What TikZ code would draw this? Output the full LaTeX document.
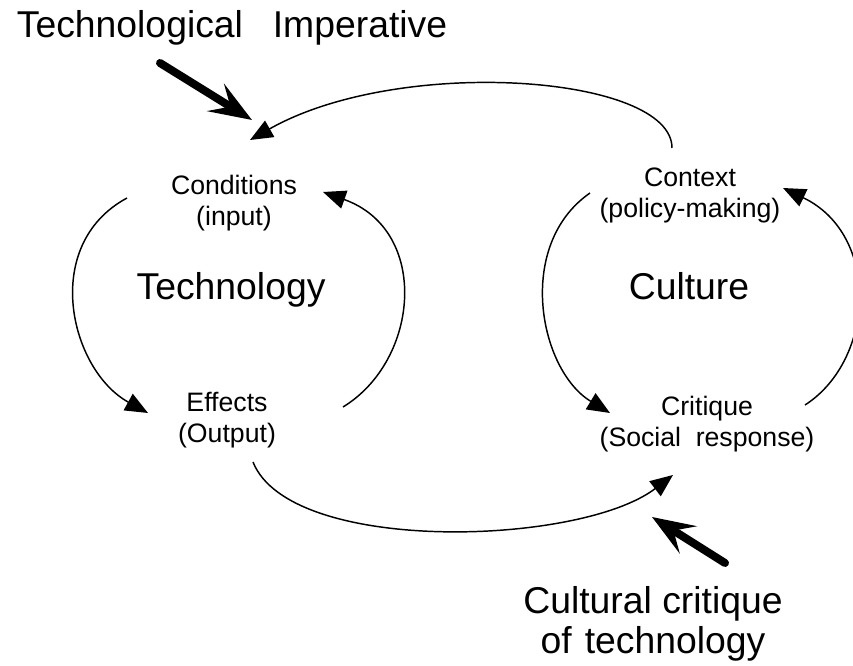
\documentclass[tikz,border=0pt]{standalone}
\usepackage{fontspec}
\setmainfont{Liberation Sans}
\usetikzlibrary{arrows.meta}

\begin{document}
\begin{tikzpicture}[x=0.75pt,y=-0.75pt,every node/.style={inner sep=0pt,align=center,anchor=base},
	small/.style={font=\fontsize{20}{23.25}\selectfont},
	big/.style={font=\fontsize{28}{30}\selectfont},
	flow/.style={line width=1.1pt,-{Triangle[length=17pt,width=14pt]}},
	push/.style={line width=6pt,line cap=round,-{Stealth[length=32pt,width=24pt,inset=13pt]}}]
			\useasboundingbox (0,0) rectangle (853,666);

			%technology nodes (base = last line)
			\node[small] (cond) at (234,226) {Conditions\\(input)};
			\node[big] (tech) at (231,300) {Technology};
			\node[small] (eff) at (227,442) {Effects\\(Output)};

			%culture nodes
			\node[small] (ctx) at (690,218) {Context\\(policy-making)};
			\node[big] (cult) at (689,300) {Culture};
			\node[small] (crit) at (707,446) {Critique\\(Social\hspace{0.55em}response)};

			%outside forces
			\node[big] (imp) at (232,38) {Technological\hspace{0.8em}Imperative};
			\node[big] (critq) at (653,653) {Cultural critique\\of\hspace{0.35em}technology};

			%arrow ends
			\coordinate (cond-l) at (127,198);
			\coordinate (eff-l) at (148,413);
			\coordinate (eff-r) at (343,407);
			\coordinate (cond-r) at (323,192);
			\coordinate (ctx-l) at (590,193);
			\coordinate (crit-l) at (610,413);
			\coordinate (crit-r) at (805,405);
			\coordinate (ctx-r) at (783,188);
			\coordinate (ctx-t) at (672,148);
			\coordinate (cond-t) at (250,140);
			\coordinate (eff-b) at (253,462);
			\coordinate (crit-b) at (673,475);
			\coordinate (imp-e) at (160,63);
			\coordinate (imp-t) at (252,120);
			\coordinate (critq-e) at (725,563);
			\coordinate (critq-t) at (652,517);

			%cycles
			\draw[flow] (cond-l) .. controls (40,245) and (70,370) .. (eff-l);
			\draw[flow] (eff-r) .. controls (420,360) and (430,230) .. (cond-r);
			\draw[flow] (ctx-l) .. controls (515,245) and (539,370) .. (crit-l);
			\draw[flow] (crit-r) .. controls (875,360) and (881,235) .. (ctx-r);

			%links
			\draw[flow] (ctx-t) .. controls (672,75) and (400,55) .. (cond-t);
			\draw[flow] (eff-b) .. controls (290,555) and (580,546) .. (crit-b);
			\draw[push] (imp-e) -- (imp-t);
			\draw[push] (critq-e) -- (critq-t);
		\end{tikzpicture}
\end{document}
